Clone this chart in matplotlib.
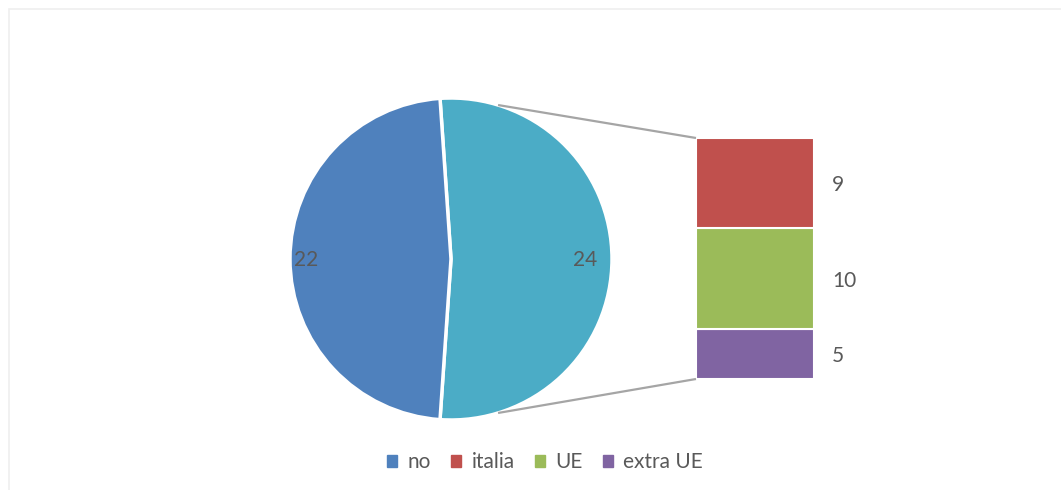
import matplotlib.pyplot as plt
import numpy as np
from matplotlib.patches import Patch, Rectangle

# pie: "no" versus everything else; bar: breakdown of the "other" slice
pie_labels = ["no", "altro"]
pie_values = [22, 24]
bar_labels = ["italia", "UE", "extra UE"]
bar_values = [9, 10, 5]

C_NO = "#4F81BD"
C_REST = "#4BACC6"
BAR_COLORS = ["#C0504D", "#9BBB59", "#8064A2"]
TEXT = "#595959"
FS = 15

plt.rcParams["font.family"] = ["Lato", "DejaVu Sans"]

fig = plt.figure(figsize=(10.61, 4.90), dpi=100)
ax = fig.add_axes([0, 0, 1, 1])

cx, cy, r = 451, 231, 161
rest = pie_values[1]
half = 360 * rest / sum(pie_values) / 2
ax.pie([pie_values[1], pie_values[0]], colors=[C_REST, C_NO],
       startangle=-half, counterclock=True, center=(cx, cy),
       radius=r, frame=True,
       wedgeprops=dict(edgecolor="white", linewidth=2.5))
ax.set_xlim(0, 1061)
ax.set_ylim(0, 490)
ax.set_aspect("equal")
ax.axis("off")

# chart-area frame
ax.add_patch(Rectangle((8.5, -10), 1100, 490 - 9.5 + 10, fill=False,
                       edgecolor="#efefef", linewidth=1.2))

# data labels on the pie, inside the rim
for val, ang, dist in ((pie_values[1], 0.0, 0.83), (pie_values[0], 180.0, 0.9)):
    a = np.deg2rad(ang)
    ax.text(cx + dist * r * np.cos(a), cy - 1 + dist * r * np.sin(a), str(val),
            ha="center", va="center", fontsize=FS, color=TEXT)

# stacked bar for the split-out slice
bx, bw = 755, 118
scale = 241 / sum(bar_values)
bottom = 111
stack = list(zip(bar_labels, bar_values, BAR_COLORS))[::-1]
for lab, val, col in stack:
    h = val * scale
    ax.bar(bx, h, width=bw, bottom=bottom, color=col, edgecolor="white",
           linewidth=1.5)
    ax.text(832, bottom + h / 2 - 2, str(val), ha="left", va="center",
            fontsize=FS, color=TEXT)
    bottom += h
top = bottom

# connector lines
a = np.deg2rad(73)
ax.plot([cx + r * np.cos(a), bx - bw / 2], [cy + r * np.sin(a), top],
        color="#A5A5A5", lw=1.6, solid_capstyle="butt")
ax.plot([cx + r * np.cos(a), bx - bw / 2], [cy - r * np.sin(a), 111],
        color="#A5A5A5", lw=1.6, solid_capstyle="butt")

handles = [Patch(color=C_NO, label=pie_labels[0])] + [
    Patch(color=c, label=l) for l, c in zip(bar_labels, BAR_COLORS)]
leg = fig.legend(handles=handles, loc="center", ncol=4, frameon=False,
                 bbox_to_anchor=(545 / 1061, 28 / 490), fontsize=FS,
                 handlelength=0.5, handleheight=0.5, handletextpad=0.5,
                 columnspacing=0.95)
for t in leg.get_texts():
    t.set_color(TEXT)

fig.savefig("out.png", dpi=100, facecolor="white")
